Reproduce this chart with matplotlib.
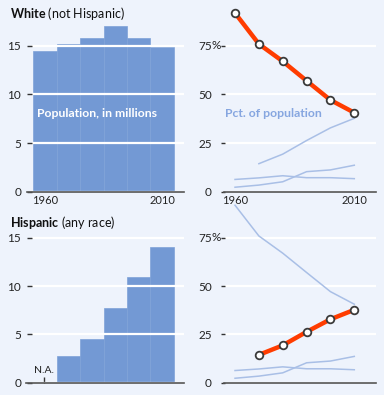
import matplotlib
matplotlib.use("Agg")
import matplotlib.pyplot as plt

years = [1960, 1970, 1980, 1990, 2000, 2010]

# population, millions
white_pop = [14.5, 15.2, 15.8, 17.0, 15.8, 14.9]
hisp_years = [1970, 1980, 1990, 2000, 2010]
hisp_pop = [2.75, 4.5, 7.7, 10.95, 14.0]

# percent of population
white_pct = [91.8, 75.9, 67.0, 57.0, 47.1, 40.6]
hisp_pct = [14.4, 19.3, 26.3, 32.8, 37.7]
asian_pct = [2.3, 3.4, 5.1, 10.3, 11.2, 13.6]
black_pct = [6.3, 7.1, 8.2, 7.2, 7.2, 6.7]

BG = "#eef3fc"
BAR = "#7399d4"
RED = "#ff3c00"
FAINT = "#a9bfe6"
DARK = "#333333"

plt.rcParams["font.family"] = ["Lato", "DejaVu Sans"]
plt.rcParams["mathtext.fontset"] = "custom"
plt.rcParams["mathtext.rm"] = "Lato"
plt.rcParams["mathtext.bf"] = "Lato:bold"

fig = plt.figure(figsize=(3.84, 3.95), dpi=100, facecolor=BG)

def px(x0, y0, x1, y1):
    # pixel box -> figure fraction
    return [x0 / 384, 1 - y1 / 395, (x1 - x0) / 384, (y1 - y0) / 395]

ax_wp = fig.add_axes(px(32, 8, 184, 191.7))
ax_wc = fig.add_axes(px(225, 8, 376, 191.7))
ax_hp = fig.add_axes(px(32, 200, 184, 382.7))
ax_hc = fig.add_axes(px(225, 200, 376, 382.7))

def style(ax, yticks, ylim, xlim, tick_len, pad, ext):
    ax.patch.set_visible(False)
    for s in ["top", "right", "left", "bottom"]:
        ax.spines[s].set_visible(False)
    ax.axhline(0, xmin=ext, xmax=1, color="#555555", lw=1.2, clip_on=False, zorder=5)
    ax.set_ylim(*ylim)
    ax.set_xlim(*xlim)
    ax.set_yticks(yticks)
    ax.yaxis.grid(True, color="white", linewidth=1.6, zorder=2)
    ax.set_axisbelow(False)
    ax.tick_params(axis="y", direction="out", length=tick_len, width=1, color=DARK,
                   labelsize=8.5, labelcolor="#222222", pad=pad)
    ax.tick_params(axis="x", length=0, labelsize=8, labelcolor="#222222", pad=2.5)

# population panels
style(ax_wp, [0, 5, 10, 15], (0, 18.88), (1954.4, 2019.4), 3.6, 4.3, -5 / 152)
ax_wp.bar(years, white_pop, width=10, color=BAR, edgecolor="#7fa2d8", linewidth=0.5, zorder=1)
ax_wp.set_xticks([1960, 2010])
ax_wp.set_xticklabels(["1960", "2010"])
ax_wp.text(1956.6, 8, "Population, in millions", color="white", fontsize=8.8,
           fontweight="bold", va="center")

style(ax_hp, [0, 5, 10, 15], (0, 18.9), (1954.4, 2019.4), 3.6, 4.3, -6 / 152)
ax_hp.bar(hisp_years, hisp_pop, width=10, color=BAR, edgecolor="#7fa2d8", linewidth=0.5, zorder=1)
ax_hp.set_xticks([1959.5])
ax_hp.set_xticklabels([""])
ax_hp.tick_params(axis="x", direction="in", length=4, color=DARK, width=1)
ax_hp.text(1959.5, 0.8, "N.A.", ha="center", va="bottom", fontsize=7.5, color="#222222")

# percent panels
for ax, ylim in [(ax_wc, (0, 94.4)), (ax_hc, (0, 94.5))]:
    style(ax, [0, 25, 50, 75], ylim, (1955.8, 2019.1), 2.9, 6.5, -1 / 151)
    ax.set_yticklabels(["0", "25", "50", "75"])

ax_wc.set_xticks([1960, 2010])
ax_wc.set_xticklabels(["1960", "2010"])
ax_hc.set_xticks([])

ax_wc.plot(years, asian_pct, color=FAINT, lw=1.1, zorder=3)
ax_wc.plot(years, black_pct, color=FAINT, lw=1.1, zorder=3)
ax_wc.plot(hisp_years, hisp_pct, color=FAINT, lw=1.1, zorder=3)
ax_wc.plot(years, white_pct, color=RED, lw=3.2, zorder=4, clip_on=False,
           marker="o", markersize=5.5, markerfacecolor="white",
           markeredgecolor="#3a3a3a", markeredgewidth=1.3)
ax_wc.text(1955.6, 40, "Pct. of population", color="#86a6e0", fontsize=8.8,
           fontweight="bold", va="center")

ax_hc.plot(years, asian_pct, color=FAINT, lw=1.1, zorder=3)
ax_hc.plot(years, black_pct, color=FAINT, lw=1.1, zorder=3)
ax_hc.plot(years, white_pct, color=FAINT, lw=1.1, zorder=3, clip_on=False)
ax_hc.plot(hisp_years, hisp_pct, color=RED, lw=3.2, zorder=4, clip_on=False,
           marker="o", markersize=5.5, markerfacecolor="white",
           markeredgecolor="#3a3a3a", markeredgewidth=1.3)

# "%" after the 75 tick label
for ypix in (45.7, 237.7):
    fig.text(212 / 384, 1 - ypix / 395, "%", fontsize=8.5, color="#222222",
             ha="left", va="center")

# panel titles
fig.text(10 / 384, 1 - 14 / 395, r"$\bf{White}$ (not Hispanic)", fontsize=9,
         color="#111111", va="center")
fig.text(10 / 384, 1 - 222.5 / 395, r"$\bf{Hispanic}$ (any race)", fontsize=9,
         color="#111111", va="center")

fig.savefig("out.png", dpi=100, facecolor=BG)
